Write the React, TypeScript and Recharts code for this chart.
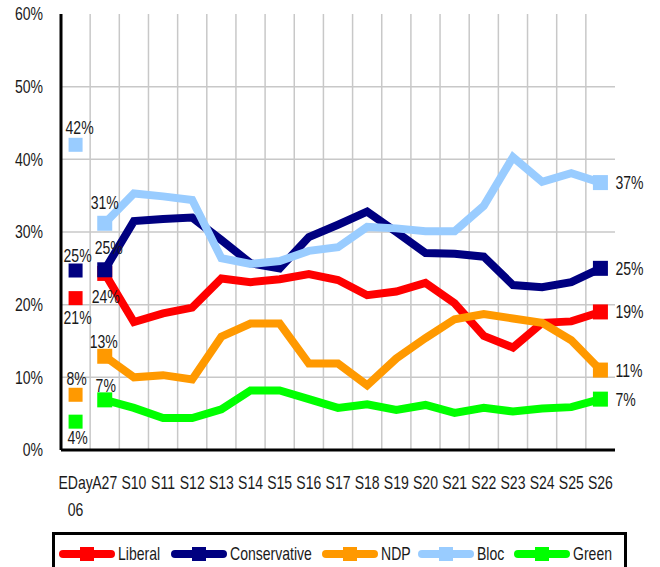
import React from 'react';
import { LineChart, Line, XAxis, YAxis, CartesianGrid } from 'recharts';

const categories = ['EDay 06', 'A27', 'S10', 'S11', 'S12', 'S13', 'S14', 'S15', 'S16', 'S17', 'S18', 'S19', 'S20', 'S21', 'S22', 'S23', 'S24', 'S25', 'S26'];

const liberal = [20.9, 24.3, 17.6, 18.8, 19.6, 23.6, 23.1, 23.5, 24.2, 23.4, 21.3, 21.8, 23.0, 20.2, 15.7, 14.1, 17.5, 17.7, 19.0];
const conservative = [24.7, 24.8, 31.5, 31.8, 32.0, 28.9, 25.7, 25.0, 29.3, 31.0, 32.8, 30.0, 27.1, 27.0, 26.6, 22.7, 22.4, 23.1, 25.0];
const ndp = [7.6, 12.9, 10.0, 10.3, 9.7, 15.6, 17.4, 17.4, 11.9, 11.9, 8.9, 12.6, 15.4, 18.0, 18.7, 18.1, 17.5, 15.1, 11.0];
const bloc = [42.0, 31.2, 35.3, 34.9, 34.4, 26.4, 25.6, 26.0, 27.4, 27.9, 30.7, 30.5, 30.1, 30.1, 33.6, 40.3, 36.9, 38.1, 36.8];
const green = [3.9, 6.9, 5.8, 4.4, 4.4, 5.6, 8.2, 8.2, 7.0, 5.8, 6.3, 5.5, 6.2, 5.1, 5.8, 5.3, 5.7, 5.9, 7.0];

const yTicks = [0, 10, 20, 30, 40, 50, 60];

// no condensed face installed, so Liberation Sans is squeezed horizontally
const FONT = "'Liberation Sans', Arial, sans-serif";
const FS = 18;
const SQUEEZE = 0.78;
const TEXT = '#1a1a1a';

type LabelPos = Record<number, [number, number]>;

const parties = [
  { key: 'liberal', name: 'Liberal', values: liberal, color: '#ff0000', legendX: 59, labels: { 0: [2, 19], 1: [1, 23] } as LabelPos },
  { key: 'conservative', name: 'Conservative', values: conservative, color: '#000080', legendX: 171, labels: { 0: [2, -15], 1: [4, -22] } as LabelPos },
  { key: 'ndp', name: 'NDP', values: ndp, color: '#ff9900', legendX: 322, labels: { 0: [1, -16], 1: [-1, -15] } as LabelPos },
  { key: 'bloc', name: 'Bloc', values: bloc, color: '#99ccff', legendX: 418, labels: { 0: [4, -17], 1: [0, -21] } as LabelPos },
  { key: 'green', name: 'Green', values: green, color: '#00ff00', legendX: 514, labels: { 0: [2, 16], 1: [1, -14] } as LabelPos },
];

const last = categories.length - 1;

// EDay is shown as a lone marker, the campaign lines start at A27
const data = categories.map((cat, i) => {
  const row: Record<string, string | number | null> = { cat };
  parties.forEach((p) => {
    row[p.key] = i === 0 ? null : p.values[i];
    row[p.key + 'Eday'] = i === 0 ? p.values[i] : null;
  });
  return row;
});

function NarrowText({ x, y, anchor = 'middle', children }: { x: number; y: number; anchor?: 'start' | 'middle' | 'end'; children: React.ReactNode }) {
  return (
    <g transform={`translate(${x},${y}) scale(${SQUEEZE},1)`}>
      <text x={0} y={0} dy="0.36em" textAnchor={anchor} fontSize={FS} fill={TEXT} fontFamily={FONT}>
        {children}
      </text>
    </g>
  );
}

const makeDot = (p: (typeof parties)[number], size: number) => (props: any) => {
  const { cx, cy, index, value } = props;
  const k = `${p.key}-${size}-${index}`;
  if (value == null || cx == null || cy == null) return <g key={k} />;
  if (index !== 0 && index !== 1 && index !== last) return <g key={k} />;
  const label = `${Math.round(value)}%`;
  let tx = cx;
  let ty = cy;
  let anchor: 'middle' | 'start' = 'middle';
  if (index === last) {
    tx = cx + 15;
    anchor = 'start';
  } else {
    const [dx, dy] = p.labels[index] ?? [0, -16];
    tx = cx + dx;
    ty = cy + dy;
  }
  return (
    <g key={k}>
      <rect x={cx - size / 2} y={cy - size / 2} width={size} height={size} fill={p.color} />
      <NarrowText x={tx} y={ty} anchor={anchor}>
        {label}
      </NarrowText>
    </g>
  );
};

const CatTick = (props: any) => {
  const { x, y, payload } = props;
  const parts = String(payload.value).split(' ');
  return (
    <g>
      {parts.map((t, i) => (
        <NarrowText key={i} x={x} y={y + 33 + i * 27}>
          {t}
        </NarrowText>
      ))}
    </g>
  );
};

const PctTick = (props: any) => {
  const { x, y, payload } = props;
  return (
    <NarrowText x={x} y={y} anchor="end">
      {`${payload.value}%`}
    </NarrowText>
  );
};

function LegendBox() {
  return (
    <svg width={660} height={567} style={{ position: 'absolute', left: 0, top: 0, pointerEvents: 'none' }}>
      <path d="M53.5,570 L53.5,533.5 L625.5,533.5 L625.5,570" fill="none" stroke="#000" strokeWidth={3} />
      {parties.map((p) => (
        <g key={p.key}>
          <line x1={p.legendX + 4} y1={554} x2={p.legendX + 52} y2={554} stroke={p.color} strokeWidth={8} strokeLinecap="round" />
          <rect x={p.legendX + 21} y={547} width={14} height={14} fill={p.color} />
          <NarrowText x={p.legendX + 59} y={554} anchor="start">
            {p.name}
          </NarrowText>
        </g>
      ))}
    </svg>
  );
}

export default function App() {
  return (
    <div style={{ position: 'relative', width: 660, height: 567, overflow: 'hidden', background: '#fff' }}>
      <style>{`body { margin: 0; }`}</style>
      <LineChart width={660} height={567} data={data} margin={{ top: 14, right: 45, bottom: 0, left: 0 }}>
        <CartesianGrid
          stroke="#c8c8c8"
          strokeWidth={1.5}
          verticalCoordinatesGenerator={({ offset }: any) =>
            categories.slice(1).map((_, i) => offset.left + ((i + 1) * offset.width) / categories.length)
          }
          horizontalCoordinatesGenerator={({ offset }: any) =>
            yTicks.slice(1, -1).map((t) => offset.top + offset.height * (1 - t / yTicks[yTicks.length - 1]))
          }
        />
        <XAxis
          dataKey="cat"
          scale="band"
          interval={0}
          height={117}
          axisLine={{ stroke: '#000', strokeWidth: 3 }}
          tickLine={false}
          tickSize={0}
          tickMargin={0}
          tick={<CatTick />}
        />
        <YAxis
          domain={[0, 60]}
          ticks={yTicks}
          width={61}
          axisLine={{ stroke: '#000', strokeWidth: 3 }}
          tickLine={false}
          tickSize={0}
          tickMargin={18}
          tick={<PctTick />}
        />
        {parties.map((p) => (
          <Line
            key={p.key}
            dataKey={p.key}
            stroke={p.color}
            strokeWidth={8}
            dot={makeDot(p, 15)}
            activeDot={false}
            connectNulls={false}
            isAnimationActive={false}
          />
        ))}
        {parties.map((p) => (
          <Line
            key={p.key + 'Eday'}
            dataKey={p.key + 'Eday'}
            stroke="none"
            dot={makeDot(p, 14)}
            activeDot={false}
            isAnimationActive={false}
          />
        ))}
      </LineChart>
      <LegendBox />
    </div>
  );
}
